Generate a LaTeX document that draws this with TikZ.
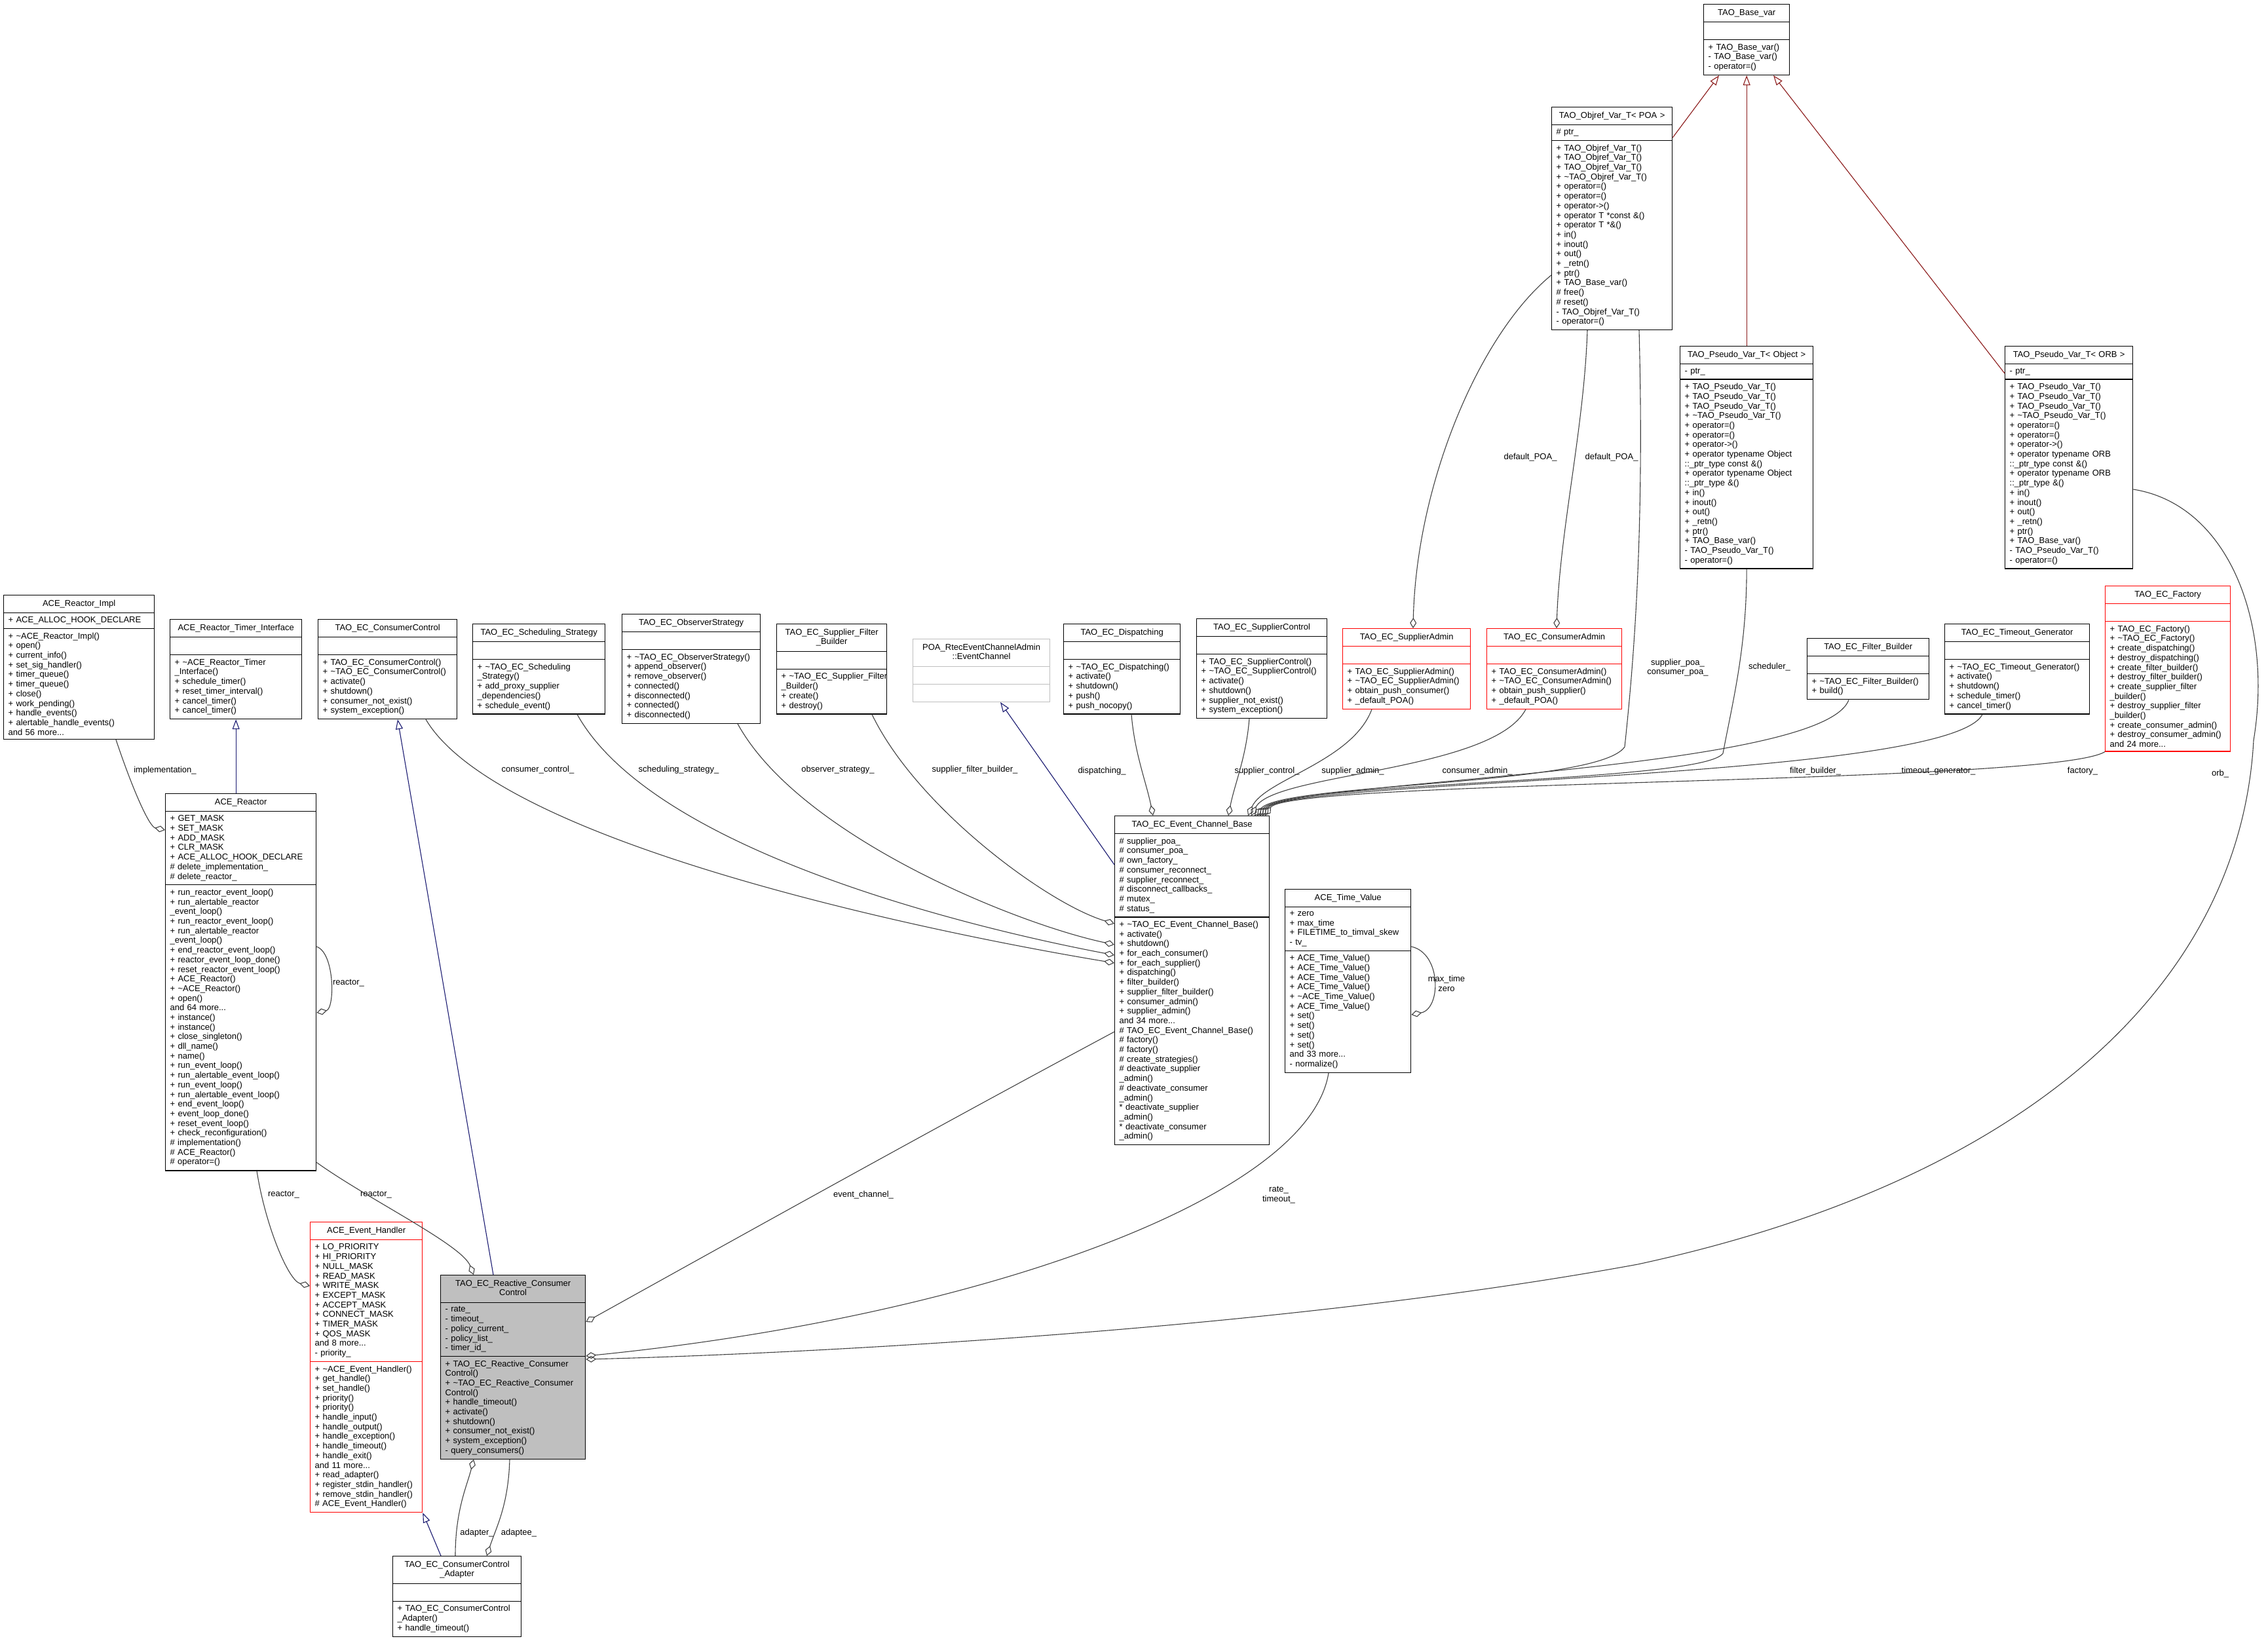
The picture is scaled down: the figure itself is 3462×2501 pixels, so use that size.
\documentclass[tikz,border=0pt]{standalone}
\usepackage{fontspec}
\setmainfont{Liberation Sans}
\usetikzlibrary{shapes.multipart,arrows.meta,calc}
\definecolor{edgegrey}{HTML}{404040}
\definecolor{inhblue}{HTML}{191970}
\definecolor{inhred}{HTML}{8B1A1A}
\definecolor{boxgrey}{HTML}{BFBFBF}

\begin{document}
\begin{tikzpicture}[x=1pt, y=-1pt,
    cls/.style={rectangle split, rectangle split parts=3, draw=black, fill=white,
                line width=1.3pt, anchor=north west, text width=#1,
                inner xsep=7pt, inner ysep=5.5pt, font={\fontsize{13}{14.7}\selectfont}},
    redcls/.style={cls=#1, draw=red},
    lbl/.style={align=center, inner sep=1pt, font={\fontsize{13}{14.7}\selectfont}},
    agg/.style={draw=edgegrey, line width=1.1pt, -{Diamond[open,length=16pt,width=10pt]}},
    inh/.style={draw=inhblue, line width=1.1pt, -{Triangle[open,length=15pt,width=11pt]}},
    tmpl/.style={draw=inhred, line width=1.1pt, -{Triangle[open,length=15pt,width=11pt]}}]
  \useasboundingbox (0,0) rectangle (3462,2501);

  \node[cls=117] (basevar) at (2600,6) {\centering\strut TAO\_Base\_var\par
    \nodepart{second}\strut
    \nodepart{third}+~TAO\_Base\_var()\\-~TAO\_Base\_var()\\-~operator=()};
  \node[cls=170] (objref) at (2368,163) {\centering\strut TAO\_Objref\_Var\_T< POA >\par
    \nodepart{second}\#~ptr\_
    \nodepart{third}+~TAO\_Objref\_Var\_T()\\+~TAO\_Objref\_Var\_T()\\+~TAO\_Objref\_Var\_T()\\+~\textasciitilde TAO\_Objref\_Var\_T()\\+~operator=()\\+~operator=()\\+~operator->()\\+~operator T *const \&()\\+~operator T *\&()\\+~in()\\+~inout()\\+~out()\\+~\_retn()\\+~ptr()\\+~TAO\_Base\_var()\\\#~free()\\\#~reset()\\-~TAO\_Objref\_Var\_T()\\-~operator=()};
  \node[cls=189] (pseudoobj) at (2564,528) {\centering\strut TAO\_Pseudo\_Var\_T< Object >\par
    \nodepart{second}-~ptr\_
    \nodepart{third}+~TAO\_Pseudo\_Var\_T()\\+~TAO\_Pseudo\_Var\_T()\\+~TAO\_Pseudo\_Var\_T()\\+~\textasciitilde TAO\_Pseudo\_Var\_T()\\+~operator=()\\+~operator=()\\+~operator->()\\+~operator typename Object\\::\_ptr\_type const \&()\\+~operator typename Object\\::\_ptr\_type \&()\\+~in()\\+~inout()\\+~out()\\+~\_retn()\\+~ptr()\\+~TAO\_Base\_var()\\-~TAO\_Pseudo\_Var\_T()\\-~operator=()};
  \node[cls=181] (pseudoorb) at (3060,528) {\centering\strut TAO\_Pseudo\_Var\_T< ORB >\par
    \nodepart{second}-~ptr\_
    \nodepart{third}+~TAO\_Pseudo\_Var\_T()\\+~TAO\_Pseudo\_Var\_T()\\+~TAO\_Pseudo\_Var\_T()\\+~\textasciitilde TAO\_Pseudo\_Var\_T()\\+~operator=()\\+~operator=()\\+~operator->()\\+~operator typename ORB\\::\_ptr\_type const \&()\\+~operator typename ORB\\::\_ptr\_type \&()\\+~in()\\+~inout()\\+~out()\\+~\_retn()\\+~ptr()\\+~TAO\_Base\_var()\\-~TAO\_Pseudo\_Var\_T()\\-~operator=()};

  \node[cls=216] (reactorimpl) at (5,908) {\centering\strut ACE\_Reactor\_Impl\par
    \nodepart{second}+~ACE\_ALLOC\_HOOK\_DECLARE
    \nodepart{third}+~\textasciitilde ACE\_Reactor\_Impl()\\+~open()\\+~current\_info()\\+~set\_sig\_handler()\\+~timer\_queue()\\+~timer\_queue()\\+~close()\\+~work\_pending()\\+~handle\_events()\\+~alertable\_handle\_events()\\and 56 more...};
  \node[cls=187] (timerif) at (259,945) {\centering\strut ACE\_Reactor\_Timer\_Interface\par
    \nodepart{second}\strut
    \nodepart{third}+~\textasciitilde ACE\_Reactor\_Timer\\\_Interface()\\+~schedule\_timer()\\+~reset\_timer\_interval()\\+~cancel\_timer()\\+~cancel\_timer()};
  \node[cls=198] (consctl) at (485,945) {\centering\strut TAO\_EC\_ConsumerControl\par
    \nodepart{second}\strut
    \nodepart{third}+~TAO\_EC\_ConsumerControl()\\+~\textasciitilde TAO\_EC\_ConsumerControl()\\+~activate()\\+~shutdown()\\+~consumer\_not\_exist()\\+~system\_exception()};
  \node[cls=188] (schedstrat) at (721,952) {\centering\strut TAO\_EC\_Scheduling\_Strategy\par
    \nodepart{second}\strut
    \nodepart{third}+~\textasciitilde TAO\_EC\_Scheduling\\\_Strategy()\\+~add\_proxy\_supplier\\\_dependencies()\\+~schedule\_event()};
  \node[cls=197] (obsstrat) at (949,937) {\centering\strut TAO\_EC\_ObserverStrategy\par
    \nodepart{second}\strut
    \nodepart{third}+~\textasciitilde TAO\_EC\_ObserverStrategy()\\+~append\_observer()\\+~remove\_observer()\\+~connected()\\+~disconnected()\\+~connected()\\+~disconnected()};
  \node[cls=154] (sfbuilder) at (1185,952) {\centering\strut TAO\_EC\_Supplier\_Filter\\\_Builder\strut\par
    \nodepart{second}\strut
    \nodepart{third}+~\textasciitilde TAO\_EC\_Supplier\_Filter\\\_Builder()\\+~create()\\+~destroy()};
  \node[cls=195, draw=boxgrey] (poaec) at (1393,975) {\centering\strut POA\_RtecEventChannelAdmin\\::EventChannel\strut\par
    \nodepart{second}\strut
    \nodepart{third}\strut};
  \node[cls=164] (dispatching) at (1623,952) {\centering\strut TAO\_EC\_Dispatching\par
    \nodepart{second}\strut
    \nodepart{third}+~\textasciitilde TAO\_EC\_Dispatching()\\+~activate()\\+~shutdown()\\+~push()\\+~push\_nocopy()};
  \node[cls=185] (supctl) at (1826,944) {\centering\strut TAO\_EC\_SupplierControl\par
    \nodepart{second}\strut
    \nodepart{third}+~TAO\_EC\_SupplierControl()\\+~\textasciitilde TAO\_EC\_SupplierControl()\\+~activate()\\+~shutdown()\\+~supplier\_not\_exist()\\+~system\_exception()};
  \node[redcls=181] (supadmin) at (2049,959) {\centering\strut TAO\_EC\_SupplierAdmin\par
    \nodepart{second}\strut
    \nodepart{third}+~TAO\_EC\_SupplierAdmin()\\+~\textasciitilde TAO\_EC\_SupplierAdmin()\\+~obtain\_push\_consumer()\\+~\_default\_POA()};
  \node[redcls=192] (consadmin) at (2269,959) {\centering\strut TAO\_EC\_ConsumerAdmin\par
    \nodepart{second}\strut
    \nodepart{third}+~TAO\_EC\_ConsumerAdmin()\\+~\textasciitilde TAO\_EC\_ConsumerAdmin()\\+~obtain\_push\_supplier()\\+~\_default\_POA()};
  \node[cls=172] (filterbuilder) at (2758,974) {\centering\strut TAO\_EC\_Filter\_Builder\par
    \nodepart{second}\strut
    \nodepart{third}+~\textasciitilde TAO\_EC\_Filter\_Builder()\\+~build()};
  \node[cls=207] (timeoutgen) at (2968,952) {\centering\strut TAO\_EC\_Timeout\_Generator\par
    \nodepart{second}\strut
    \nodepart{third}+~\textasciitilde TAO\_EC\_Timeout\_Generator()\\+~activate()\\+~shutdown()\\+~schedule\_timer()\\+~cancel\_timer()};
  \node[redcls=177] (factory) at (3213,894) {\centering\strut TAO\_EC\_Factory\par
    \nodepart{second}\strut
    \nodepart{third}+~TAO\_EC\_Factory()\\+~\textasciitilde TAO\_EC\_Factory()\\+~create\_dispatching()\\+~destroy\_dispatching()\\+~create\_filter\_builder()\\+~destroy\_filter\_builder()\\+~create\_supplier\_filter\\\_builder()\\+~destroy\_supplier\_filter\\\_builder()\\+~create\_consumer\_admin()\\+~destroy\_consumer\_admin()\\and 24 more...};

  \node[cls=216] (reactor) at (252,1211) {\centering\strut ACE\_Reactor\par
    \nodepart{second}+~GET\_MASK\\+~SET\_MASK\\+~ADD\_MASK\\+~CLR\_MASK\\+~ACE\_ALLOC\_HOOK\_DECLARE\\\#~delete\_implementation\_\\\#~delete\_reactor\_
    \nodepart{third}+~run\_reactor\_event\_loop()\\+~run\_alertable\_reactor\\\_event\_loop()\\+~run\_reactor\_event\_loop()\\+~run\_alertable\_reactor\\\_event\_loop()\\+~end\_reactor\_event\_loop()\\+~reactor\_event\_loop\_done()\\+~reset\_reactor\_event\_loop()\\+~ACE\_Reactor()\\+~\textasciitilde ACE\_Reactor()\\+~open()\\and 64 more...\\+~instance()\\+~instance()\\+~close\_singleton()\\+~dll\_name()\\+~name()\\+~run\_event\_loop()\\+~run\_alertable\_event\_loop()\\+~run\_event\_loop()\\+~run\_alertable\_event\_loop()\\+~end\_event\_loop()\\+~event\_loop\_done()\\+~reset\_event\_loop()\\+~check\_reconfiguration()\\\#~implementation()\\\#~ACE\_Reactor()\\\#~operator=()};
  \node[cls=222] (ecbase) at (1701,1245) {\centering\strut TAO\_EC\_Event\_Channel\_Base\par
    \nodepart{second}\#~supplier\_poa\_\\\#~consumer\_poa\_\\\#~own\_factory\_\\\#~consumer\_reconnect\_\\\#~supplier\_reconnect\_\\\#~disconnect\_callbacks\_\\\#~mutex\_\\\#~status\_
    \nodepart{third}+~\textasciitilde TAO\_EC\_Event\_Channel\_Base()\\+~activate()\\+~shutdown()\\+~for\_each\_consumer()\\+~for\_each\_supplier()\\+~dispatching()\\+~filter\_builder()\\+~supplier\_filter\_builder()\\+~consumer\_admin()\\+~supplier\_admin()\\and 34 more...\\\#~TAO\_EC\_Event\_Channel\_Base()\\\#~factory()\\\#~factory()\\\#~create\_strategies()\\\#~deactivate\_supplier\\\_admin()\\\#~deactivate\_consumer\\\_admin()\\{}*~deactivate\_supplier\\\_admin()\\{}*~deactivate\_consumer\\\_admin()};
  \node[cls=178] (timevalue) at (1961,1357) {\centering\strut ACE\_Time\_Value\par
    \nodepart{second}+~zero\\+~max\_time\\+~FILETIME\_to\_timval\_skew\\-~tv\_
    \nodepart{third}+~ACE\_Time\_Value()\\+~ACE\_Time\_Value()\\+~ACE\_Time\_Value()\\+~ACE\_Time\_Value()\\+~\textasciitilde ACE\_Time\_Value()\\+~ACE\_Time\_Value()\\+~set()\\+~set()\\+~set()\\+~set()\\and 33 more...\\-~normalize()};
  \node[redcls=157] (evhandler) at (473,1865) {\centering\strut ACE\_Event\_Handler\par
    \nodepart{second}+~LO\_PRIORITY\\+~HI\_PRIORITY\\+~NULL\_MASK\\+~READ\_MASK\\+~WRITE\_MASK\\+~EXCEPT\_MASK\\+~ACCEPT\_MASK\\+~CONNECT\_MASK\\+~TIMER\_MASK\\+~QOS\_MASK\\and 8 more...\\-~priority\_
    \nodepart{third}+~\textasciitilde ACE\_Event\_Handler()\\+~get\_handle()\\+~set\_handle()\\+~priority()\\+~priority()\\+~handle\_input()\\+~handle\_output()\\+~handle\_exception()\\+~handle\_timeout()\\+~handle\_exit()\\and 11 more...\\+~read\_adapter()\\+~register\_stdin\_handler()\\+~remove\_stdin\_handler()\\\#~ACE\_Event\_Handler()};
  \node[cls=207, fill=boxgrey] (rcc) at (672,1946) {\centering\strut TAO\_EC\_Reactive\_Consumer\\Control\strut\par
    \nodepart{second}-~rate\_\\-~timeout\_\\-~policy\_current\_\\-~policy\_list\_\\-~timer\_id\_
    \nodepart{third}+~TAO\_EC\_Reactive\_Consumer\\Control()\\+~\textasciitilde TAO\_EC\_Reactive\_Consumer\\Control()\\+~handle\_timeout()\\+~activate()\\+~shutdown()\\+~consumer\_not\_exist()\\+~system\_exception()\\-~query\_consumers()};
  \node[cls=182] (adapter) at (599,2375) {\centering\strut TAO\_EC\_ConsumerControl\\\_Adapter\strut\par
    \nodepart{second}\strut
    \nodepart{third}+~TAO\_EC\_ConsumerControl\\\_Adapter()\\+~handle\_timeout()};

  \node[lbl] (limpl) at (252,1176) {implementation\_};
  \node[lbl] (lconsctl) at (821,1175) {consumer\_control\_};
  \node[lbl] (lsched) at (1036,1175) {scheduling\_strategy\_};
  \node[lbl] (lobs) at (1279,1175) {observer\_strategy\_};
  \node[lbl] (lsfb) at (1488,1175) {supplier\_filter\_builder\_};
  \node[lbl] (ldisp) at (1682,1177) {dispatching\_};
  \node[lbl] (lsupctl) at (1934,1177) {supplier\_control\_};
  \node[lbl] (lsupadm) at (2065,1177) {supplier\_admin\_};
  \node[lbl] (lconsadm) at (2255,1177) {consumer\_admin\_};
  \node[lbl] (lfb) at (2771,1177) {filter\_builder\_};
  \node[lbl] (ltg) at (2959,1177) {timeout\_generator\_};
  \node[lbl] (lfact) at (3179,1177) {factory\_};
  \node[lbl] (lpoa) at (2561,1019) {supplier\_poa\_\\consumer\_poa\_};
  \node[lbl] (lsched2) at (2701,1018) {scheduler\_};
  \node[lbl] (ldef1) at (2336,698) {default\_POA\_};
  \node[lbl] (ldef2) at (2460,698) {default\_POA\_};
  \node[lbl] (lorb) at (3389,1181) {orb\_};
  \node[lbl] (lself) at (532,1501) {reactor\_};
  \node[lbl] (ltime) at (2208,1501) {max\_time\\zero};
  \node[lbl] (lreact1) at (433,1824) {reactor\_};
  \node[lbl] (lreact2) at (574,1824) {reactor\_};
  \node[lbl] (levch) at (1318,1824) {event\_channel\_};
  \node[lbl] (lrate) at (1952,1824) {rate\_\\timeout\_};
  \node[lbl] (ladapter) at (728,2340) {adapter\_};
  \node[lbl] (ladaptee) at (792,2340) {adaptee\_};

  \draw[inh] (timerif.south |- reactor.north) -- (timerif.south);
  \draw[inh] ($(rcc.north west)+(81,0)$) -- ($(consctl.south west)+(122,0)$);
  \draw[inh] ($(adapter.north west)+(74,0)$) -- (evhandler.south east);
  \draw[inh] ($(ecbase.north west)+(0,75)$) -- ($(poaec.south west)+(134,0)$);
  \draw[tmpl] ($(objref.north east)+(0,47)$) -- ($(basevar.south west)+(24,0)$);
  \draw[tmpl] (pseudoobj.north) -- (basevar.south);
  \draw[tmpl] ($(pseudoorb.north west)+(0,42)$) -- ($(basevar.south west)+(107,0)$);

  \draw[agg] ($(reactorimpl.south west)+(172,0)$) .. controls +(23,69) and +(-25,-5) .. ($(reactor.north west)+(0,56)$);
  \draw[agg] ($(reactor.north east)+(0,234)$) .. controls +(28,10) and +(28,-6) .. ($(reactor.north east)+(0,335)$);
  \draw[agg] ($(reactor.south east)+(0,-13)$) .. controls +(78,56) and +(-18,-46) .. ($(rcc.north west)+(51,0)$);
  \draw[agg] ($(reactor.south west)+(140,0)$) .. controls +(13,83) and +(-33,-8) .. ($(evhandler.north west)+(0,98)$);
  \draw[agg] ($(consctl.south west)+(165,0)$) .. controls +(110,186) and +(-301,-50) .. ($(ecbase.north west)+(0,225)$);
  \draw[agg] ($(schedstrat.south west)+(160,0)$) .. controls +(119,213) and +(-201,-38) .. ($(ecbase.north west)+(0,213)$);
  \draw[agg] ($(obsstrat.south west)+(177,0)$) .. controls +(94,171) and +(-151,-32) .. ($(ecbase.north west)+(0,197)$);
  \draw[agg] ($(sfbuilder.south west)+(146,0)$) .. controls +(69,143) and +(-101,-30) .. ($(ecbase.north west)+(0,165)$);
  \draw[agg] ($(dispatching.south west)+(104,0)$) .. controls +(5,60) and +(-10,-50) .. ($(ecbase.north west)+(59,0)$);
  \draw[agg] ($(supctl.south west)+(81,0)$) .. controls +(-5,60) and +(10,-50) .. ($(ecbase.north west)+(174,0)$);
  \draw[agg] ($(supadmin.south west)+(45,0)$) .. controls +(-30,80) and +(25,-55) .. ($(ecbase.north west)+(204,0)$);
  \draw[agg] ($(consadmin.south west)+(60,0)$) .. controls +(-50,95) and +(35,-65) .. ($(ecbase.north west)+(209,0)$);
  \draw[agg] ($(objref.south west)+(134,0)$) .. controls +(8,300) and +(15,-140) .. (2480,1140)
    .. controls +(-40,60) and +(45,-50) .. ($(ecbase.north west)+(214,0)$);
  \draw[agg] (pseudoobj.south) .. controls +(0,120) and +(15,-80) .. (2630,1150)
    .. controls +(-30,45) and +(45,-52) .. ($(ecbase.north west)+(218,0)$);
  \draw[agg] ($(filterbuilder.south west)+(64,0)$) .. controls +(-40,110) and +(43,-53) .. ($(ecbase.north west)+(222,0)$);
  \draw[agg] ($(timeoutgen.south west)+(58,0)$) .. controls +(-50,100) and +(40,-55) .. ($(ecbase.north west)+(226,0)$);
  \draw[agg] (factory.south west) .. controls +(-80,50) and +(37,-55) .. ($(ecbase.north west)+(230,0)$);
  \draw[agg] ($(objref.north west)+(0,257)$) .. controls +(-110,90) and +(5,-220) .. ($(supadmin.north west)+(108,0)$);
  \draw[agg] ($(objref.south west)+(55,0)$) .. controls +(-5,150) and +(5,-150) .. ($(consadmin.north west)+(107,0)$);
  \draw[agg] ($(pseudoorb.north east)+(0,219)$) .. controls +(145,23) and +(30,-180) .. (3440,1130)
    .. controls +(-20,370) and +(600,-130) .. (2500,1930)
    .. controls +(-600,110) and +(207,-5) .. ($(rcc.north east)+(0,129)$);
  \draw[agg] ($(ecbase.north west)+(0,330)$) .. controls +(-280,150) and +(270,-150) .. ($(rcc.north east)+(0,72)$);
  \draw[agg] ($(timevalue.south west)+(67,0)$) .. controls +(-30,190) and +(600,-60) .. ($(rcc.north east)+(0,124)$);
  \draw[agg] ($(timevalue.north east)+(0,88)$) .. controls +(46,10) and +(46,-9) .. ($(timevalue.north east)+(0,192)$);
  \draw[agg] ($(rcc.south west)+(106,0)$) .. controls +(-2,70) and +(15,-45) .. ($(adapter.north west)+(144,0)$);
  \draw[agg] ($(adapter.north west)+(96,0)$) .. controls +(0,-70) and +(-10,40) .. ($(rcc.south west)+(51,0)$);
\end{tikzpicture}
\end{document}
